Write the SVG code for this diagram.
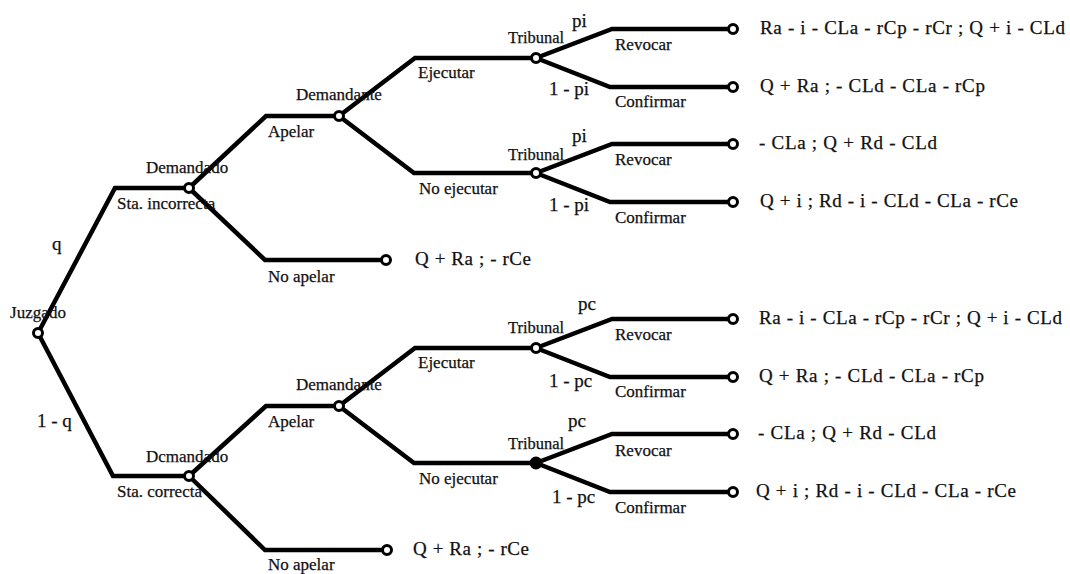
<svg xmlns="http://www.w3.org/2000/svg" width="1070" height="574" viewBox="0 0 1070 574" font-family="'Liberation Serif', 'Times New Roman', serif">
<style>
.e{fill:none;stroke:#000;stroke-width:4.5;stroke-linejoin:miter;stroke-linecap:butt}
.n{fill:#fff;stroke:#000;stroke-width:3}
.nf{fill:#000;stroke:#000;stroke-width:3}
text{font-family:"Liberation Serif","Times New Roman",serif;fill:#111;stroke:#111;stroke-width:0.25}
.l{font-size:17px}
.tb{font-size:16px}
.p{font-size:19px}
.pay{font-size:19px}
</style>
<rect width="1070" height="574" fill="#fff"/>
<g id="connectors">
<polyline class="e" points="38,333 115,188 189,188"/>
<polyline class="e" points="38,333 113,476 189,476"/>
<polyline class="e" points="189,188 266,116 339,116"/>
<polyline class="e" points="189,188 265,260 386,260"/>
<polyline class="e" points="339,116 415,58 536,58"/>
<polyline class="e" points="339,116 414,173 536,173"/>
<polyline class="e" points="536,58 612,29 733,29"/>
<polyline class="e" points="536,58 610,87 733,87"/>
<polyline class="e" points="536,173 612,144 733,144"/>
<polyline class="e" points="536,173 610,202 733,202"/>
<polyline class="e" points="189,476 266,406 339,406"/>
<polyline class="e" points="189,476 265,550 387,550"/>
<polyline class="e" points="339,406 415,348 536,348"/>
<polyline class="e" points="339,406 414,463 536,463"/>
<polyline class="e" points="536,348 612,319 733,319"/>
<polyline class="e" points="536,348 610,377 733,377"/>
<polyline class="e" points="536,463 612,434 733,434"/>
<polyline class="e" points="536,463 610,492 733,492"/>
</g>
<g id="edge-labels">
<text class="p" x="52" y="250">q</text>
<text class="p" x="37" y="427">1 - q</text>
<text class="l" x="117" y="209">Sta. incorrecta</text>
<text class="l" x="117" y="497">Sta. correcta</text>
<text class="l" x="268" y="137">Apelar</text>
<text class="l" x="268" y="282">No apelar</text>
<text class="l" x="268" y="427">Apelar</text>
<text class="l" x="268" y="570">No apelar</text>
<text class="l" x="418" y="78">Ejecutar</text>
<text class="l" x="419" y="194">No ejecutar</text>
<text class="l" x="418" y="368">Ejecutar</text>
<text class="l" x="419" y="484">No ejecutar</text>
<text class="p" x="572" y="27">pi</text>
<text class="p" x="549" y="95">1 - pi</text>
<text class="l" x="615" y="50">Revocar</text>
<text class="l" x="615" y="107">Confirmar</text>
<text class="p" x="572" y="142">pi</text>
<text class="p" x="549" y="211">1 - pi</text>
<text class="l" x="615" y="165">Revocar</text>
<text class="l" x="615" y="223">Confirmar</text>
<text class="p" x="578" y="310">pc</text>
<text class="p" x="549" y="387">1 - pc</text>
<text class="l" x="615" y="340">Revocar</text>
<text class="l" x="615" y="397">Confirmar</text>
<text class="p" x="568" y="427">pc</text>
<text class="p" x="552" y="503">1 - pc</text>
<text class="l" x="615" y="456">Revocar</text>
<text class="l" x="615" y="513">Confirmar</text>
</g>
<g id="juzgado"><circle class="n" cx="38" cy="333" r="4.5"/><text class="l" x="10" y="318" textLength="56">Juzgado</text></g>
<g id="demandado-1"><circle class="n" cx="189" cy="188" r="4.5"/><text class="l" x="146" y="173">Demandado</text></g>
<g id="demandado-2"><circle class="n" cx="189" cy="476" r="4.5"/><text class="l" x="146" y="462">Dcmandado</text></g>
<g id="demandante-1"><circle class="n" cx="339" cy="116" r="4.5"/><text class="l" x="296" y="100">Demandante</text></g>
<g id="demandante-2"><circle class="n" cx="339" cy="406" r="4.5"/><text class="l" x="296" y="390">Demandante</text></g>
<g id="tribunal-1"><circle class="n" cx="536" cy="58" r="4.5"/><text class="tb" x="508" y="43" textLength="56" lengthAdjust="spacingAndGlyphs">Tribunal</text></g>
<g id="tribunal-2"><circle class="n" cx="536" cy="173" r="4.5"/><text class="tb" x="508" y="160" textLength="56" lengthAdjust="spacingAndGlyphs">Tribunal</text></g>
<g id="tribunal-3"><circle class="n" cx="536" cy="348" r="4.5"/><text class="tb" x="508" y="333" textLength="56" lengthAdjust="spacingAndGlyphs">Tribunal</text></g>
<g id="tribunal-4"><circle class="nf" cx="536" cy="463" r="5"/><text class="tb" x="508" y="449" textLength="56" lengthAdjust="spacingAndGlyphs">Tribunal</text></g>
<g id="out-1"><circle class="n" cx="733" cy="29" r="4.5"/><text class="pay" x="760" y="34" textLength="305">Ra - i - CLa - rCp - rCr ; Q + i - CLd</text></g>
<g id="out-2"><circle class="n" cx="733" cy="87" r="4.5"/><text class="pay" x="760" y="92" textLength="225">Q + Ra ; - CLd - CLa - rCp</text></g>
<g id="out-3"><circle class="n" cx="733" cy="144" r="4.5"/><text class="pay" x="759" y="149" textLength="178">- CLa ; Q + Rd - CLd</text></g>
<g id="out-4"><circle class="n" cx="733" cy="202" r="4.5"/><text class="pay" x="760" y="207" textLength="258">Q + i ; Rd - i - CLd - CLa - rCe</text></g>
<g id="out-5"><circle class="n" cx="386" cy="260" r="4.5"/><text class="pay" x="415" y="265" textLength="116">Q + Ra ; - rCe</text></g>
<g id="out-6"><circle class="n" cx="733" cy="319" r="4.5"/><text class="pay" x="759" y="324" textLength="303">Ra - i - CLa - rCp - rCr ; Q + i - CLd</text></g>
<g id="out-7"><circle class="n" cx="733" cy="377" r="4.5"/><text class="pay" x="759" y="382" textLength="225">Q + Ra ; - CLd - CLa - rCp</text></g>
<g id="out-8"><circle class="n" cx="733" cy="434" r="4.5"/><text class="pay" x="758" y="439" textLength="178">- CLa ; Q + Rd - CLd</text></g>
<g id="out-9"><circle class="n" cx="733" cy="492" r="4.5"/><text class="pay" x="756" y="497" textLength="260">Q + i ; Rd - i - CLd - CLa - rCe</text></g>
<g id="out-10"><circle class="n" cx="387" cy="550" r="4.5"/><text class="pay" x="413" y="555" textLength="116">Q + Ra ; - rCe</text></g>
</svg>
